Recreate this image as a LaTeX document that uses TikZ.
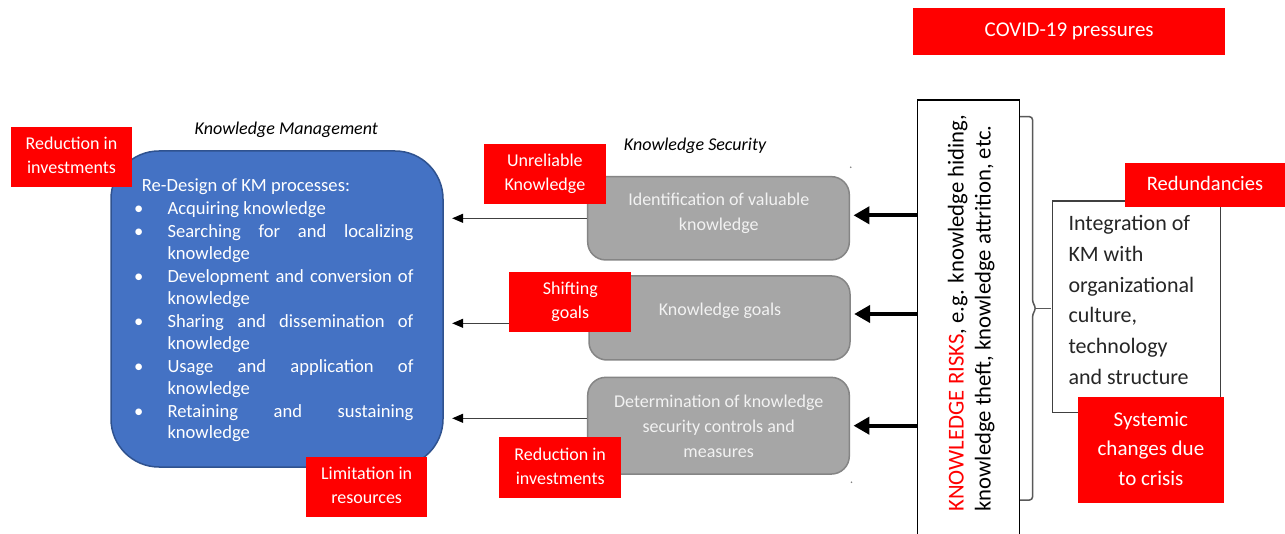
\documentclass[tikz,border=0pt]{standalone}
\usepackage{fontspec}
\setmainfont{Carlito}
\usetikzlibrary{arrows.meta}
\definecolor{kmblue}{HTML}{4472C4}
\definecolor{kmblueline}{HTML}{2F528F}
\definecolor{ksgray}{HTML}{A6A6A6}
\definecolor{ksgrayline}{HTML}{858585}
\definecolor{ksgraytext}{HTML}{F2F2F2}
\definecolor{darktext}{HTML}{262626}
\definecolor{darkline}{HTML}{404040}
\definecolor{bracegray}{HTML}{595959}
\definecolor{arrowgray}{HTML}{404040}
\begin{document}
\begin{tikzpicture}[x=1pt,y=-1pt,
  redbox/.style={fill=red, text=white, inner sep=0pt, align=center, font=\fontsize{18}{24}\selectfont},
  kmbox/.style={fill=kmblue, draw=kmblueline, line width=1.5pt, rounded corners=48pt, inner sep=0pt},
  kmtext/.style={text=white, inner sep=0pt, anchor=base west, font=\fontsize{18.6}{22}\selectfont},
  kmbullet/.style={text=white, inner sep=0pt, anchor=base, font=\fontsize{18.6}{22}\selectfont},
  graybox/.style={fill=ksgray, draw=ksgrayline, line width=1.5pt, rounded corners=18pt, inner sep=0pt},
  graytext/.style={text=ksgraytext, inner sep=0pt, align=center, anchor=north, font=\fontsize{18}{25}\selectfont},
  seclabel/.style={inner sep=0pt, anchor=base, font=\fontsize{18}{22}\selectfont\itshape},
  thinarrow/.style={draw=arrowgray, line width=1.3pt, -{Triangle[length=11pt,width=9pt,color=black]}, shorten >=8.4pt},
  thickarrow/.style={draw=black, line width=4pt, -{Triangle[length=16pt,width=17pt]}, shorten >=3.4pt},
  framebox/.style={draw=black, line width=1.5pt, inner sep=0pt},
  bracestyle/.style={draw=bracegray, line width=1.5pt, rounded corners=3pt}
]
\useasboundingbox (0,0) rectangle (1285,534);
\clip (0,0) rectangle (1285,534);
\fill[white] (0,0) rectangle (1285,534);

% labels
\node[seclabel] (kmlabel) at (286.3,134.5) {Knowledge Management};
\node[seclabel] (kslabel) at (695,150.5) {Knowledge Security};

% Knowledge management box
\node[kmbox, minimum width=332pt, minimum height=316pt] (km) at (277,309) {};
\node[kmtext] (kmhead) at (141.7,192) {Re-Design of KM processes:};
\node[kmbullet] (b1) at (138.7,215) {•};
\node[kmbullet] (b2) at (138.7,237.5) {•};
\node[kmbullet] (b3) at (138.7,282.5) {•};
\node[kmbullet] (b4) at (138.7,327.5) {•};
\node[kmbullet] (b5) at (138.7,372.5) {•};
\node[kmbullet] (b6) at (138.7,417.5) {•};
\node[kmtext] (i1) at (167.3,215) {Acquiring knowledge};
\node[kmtext] (i2a) at (167.3,237.5) {\hbox to 246pt{Searching for and localizing}};
\node[kmtext] (i2b) at (167.3,259.5) {knowledge};
\node[kmtext] (i3a) at (167.3,282.5) {\hbox to 246pt{Development and conversion of}};
\node[kmtext] (i3b) at (167.3,304.5) {knowledge};
\node[kmtext] (i4a) at (167.3,327.5) {\hbox to 246pt{Sharing and dissemination of}};
\node[kmtext] (i4b) at (167.3,349.5) {knowledge};
\node[kmtext] (i5a) at (167.3,372.5) {\hbox to 246pt{Usage and application of}};
\node[kmtext] (i5b) at (167.3,394.5) {knowledge};
\node[kmtext] (i6a) at (167.3,417.5) {\hbox to 246pt{Retaining and sustaining}};
\node[kmtext] (i6b) at (167.3,438.5) {knowledge};

% Knowledge security boxes
\node[graybox, minimum width=261.6pt, minimum height=83.3pt] (g1) at (718.5,218.3) {};
\node[graybox, minimum width=261pt, minimum height=84pt] (g2) at (719.5,318) {};
\node[graybox, minimum width=261.6pt, minimum height=96.7pt] (g3) at (718.5,425.7) {};
\node[graytext] (g1t) at (718.8,188) {\strut Identification of valuable\\\strut knowledge};
\node[graytext] (g2t) at (720,297.5) {\strut Knowledge goals};
\node[graytext] (g3t) at (718.7,389.7) {\strut Determination of knowledge\\\strut security controls and\\\strut measures};
\fill[gray] (850.7,167.3) circle (0.9pt);
\fill[gray] (851.5,482.3) circle (0.9pt);

% thin arrows
\draw[thinarrow] (g1.west) -- (g1.west -| km.east);
\draw[thinarrow] ([yshift=-5.3pt]g2.west) -- ([yshift=-5.3pt]g2.west -| km.east);
\draw[thinarrow] ([yshift=7.4pt]g3.west) -- ([yshift=7.4pt]g3.west -| km.east);

% knowledge risks box
\node[framebox, minimum width=101.6pt, minimum height=460pt] (risks) at (968.5,330) {};
\node[rotate=90, anchor=west, inner sep=0pt, align=left, font=\fontsize{22.7}{27}\selectfont] (riskst) at (971.6,511.7)
  {\strut\textcolor{red}{KNOWLEDGE RISKS}, e.g. knowledge hiding,\\\strut knowledge theft, knowledge attrition, etc.};

% thick arrows
\draw[thickarrow] ([yshift=3pt]g1.east -| risks.west) -- ([yshift=3pt]g1.east);
\draw[thickarrow] ([yshift=4pt]g2.east -| risks.west) -- ([yshift=4pt]g2.east);
\draw[thickarrow] (g3.east -| risks.west) -- (g3.east);

% bracket
\draw[bracestyle] (1020,116.7) -- (1032.5,116.7) -- (1032.5,302) -- (1036,308.3) -- (1032.5,314.6) -- (1032.5,500) -- (1020,500);
\draw[draw=bracegray, line width=1.5pt] (1035,308.3) -- (1050.7,308.3);

% integration box
\node[draw=darkline, line width=1.5pt, inner sep=0pt, minimum width=168.4pt, minimum height=211.3pt] (integ) at (1136.5,306.7) {};
\node[anchor=north west, inner sep=0pt, align=left, text=darktext, font=\fontsize{22}{30.7}\selectfont] (integt) at (1068.3,209)
  {\strut Integration of\\\strut KM with\\\strut organizational\\\strut culture,\\\strut technology\\\strut and structure};

% red boxes
\node[redbox, font=\fontsize{21}{24}\selectfont, minimum width=311.7pt, minimum height=46.7pt] (covid) at (1069.2,31.7) {\strut COVID-19 pressures};
\node[redbox, minimum width=121.6pt, minimum height=60pt] (red1) at (71.5,156.7) {\strut Reduction in\\\strut investments};
\node[redbox, minimum width=121.3pt, minimum height=60pt] (lim) at (366.7,486.7) {\strut Limitation in\\\strut resources};
\node[redbox, minimum width=121.7pt, minimum height=60pt] (unrel) at (544.9,174) {\strut Unreliable\\\strut Knowledge};
\node[redbox, minimum width=122pt, minimum height=60pt] (shift) at (570.3,301.7) {\strut Shifting\\\strut goals};
\node[redbox, minimum width=121.7pt, minimum height=60.7pt] (red2) at (560.2,467.7) {\strut Reduction in\\\strut investments};
\node[redbox, font=\fontsize{20.5}{24}\selectfont, minimum width=160pt, minimum height=44pt] (redund) at (1205,185.3) {\strut Redundancies};
\node[redbox, font=\fontsize{21}{29.3}\selectfont, minimum width=146.3pt, minimum height=106.6pt] (systemic) at (1150.9,450) {\strut Systemic\\\strut changes due\\\strut to crisis};
\end{tikzpicture}
\end{document}
